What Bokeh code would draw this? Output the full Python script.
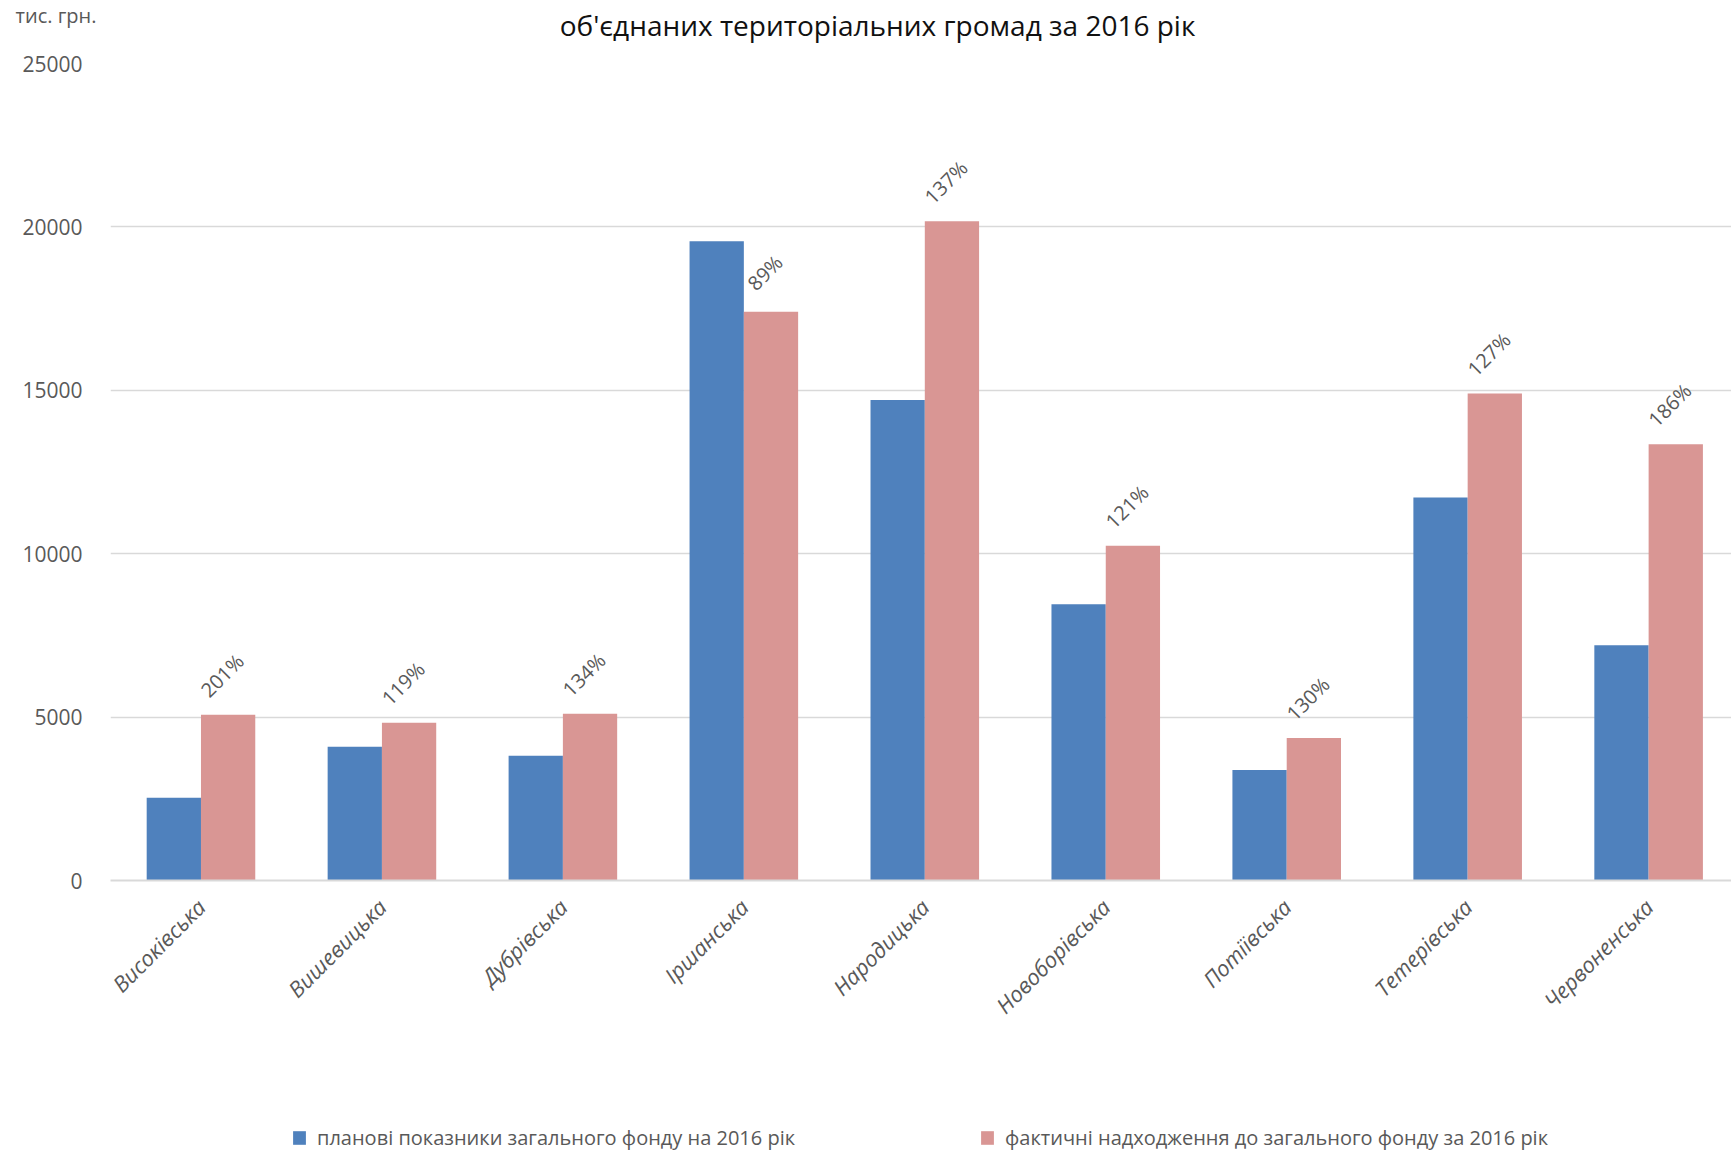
import numpy as np
from bokeh.plotting import figure
from bokeh.layouts import column
from bokeh.models import Range1d, FixedTicker, Legend, LegendItem
from bokeh.embed import file_html
from bokeh.resources import INLINE
from bokeh.core.properties import value

categories = ["Високівська", "Вишевицька", "Дубрівська", "Іршанська", "Народицька",
              "Новоборівська", "Потіївська", "Тетерівська", "Червоненська"]
planned = [2530, 4090, 3820, 19560, 14700, 8450, 3380, 11720, 7200]
actual = [5070, 4830, 5100, 17400, 20170, 10240, 4360, 14900, 13350]
percent_labels = ["201%", "119%", "134%", "89%", "137%", "121%", "130%", "127%", "186%"]
y_ticks = [0, 5000, 10000, 15000, 20000, 25000]

title_text = "об'єднаних територіальних громад за 2016 рік"
unit_text = "тис. грн."
series_names = ["планові показники загального фонду на 2016 рік",
                "фактичні надходження до загального фонду за 2016 рік"]

BLUE = "#4f81bd"
PINK = "#d99694"
GREY_TXT = "#595959"
FONT = "Open Sans"
W = 1731

# ---------- top strip: title and unit ----------
TOP_H = 44
top = figure(width=W, height=TOP_H, output_backend="svg", toolbar_location=None,
             x_range=Range1d(0, W), y_range=Range1d(TOP_H, 0),
             x_axis_type=None, y_axis_type=None, min_border=0, frame_align=False)
top.outline_line_color = None
top.grid.visible = False
top.text(x=[877], y=[24], text=[title_text], text_align="center", text_baseline="middle",
         text_font=value(FONT), text_font_size="28px", text_color="#111111")
top.text(x=[15], y=[15], text=[unit_text], text_align="left", text_baseline="middle",
         text_font=value(FONT), text_font_size="20px", text_color=GREY_TXT)

# ---------- main chart ----------
MAIN_H = 1056
n = len(categories)
centers = np.arange(n) + 0.5
bw = 0.3

p = figure(width=W, height=MAIN_H, output_backend="svg", toolbar_location=None,
           x_range=Range1d(0, 8.958), y_range=Range1d(0, 25000),
           min_border_left=110, min_border_right=0, min_border_top=19,
           min_border_bottom=MAIN_H - 19 - 817, frame_align=False)
p.outline_line_color = None

r1 = p.vbar(x=centers - bw / 2, top=planned, width=bw, fill_color=BLUE, line_color=None)
r2 = p.vbar(x=centers + bw / 2, top=actual, width=bw, fill_color=PINK, line_color=None)

p.text(x=centers + bw / 2, y=np.array(actual) + 1200, text=percent_labels,
       angle=45, angle_units="deg", text_align="center", text_baseline="middle",
       x_offset=-6,
       text_font=value(FONT), text_font_size="20px", text_color=GREY_TXT)

p.xgrid.grid_line_color = None
p.ygrid.grid_line_color = "#d9d9d9"
p.ygrid.grid_line_width = 1.5
p.yaxis.ticker = FixedTicker(ticks=y_ticks)
p.yaxis.axis_line_color = None
p.yaxis.major_tick_line_color = None
p.yaxis.minor_tick_line_color = None
p.yaxis.major_label_text_font = FONT
p.yaxis.major_label_text_font_size = "21px"
p.yaxis.major_label_text_color = GREY_TXT
p.yaxis.major_label_standoff = 22

p.xaxis.ticker = FixedTicker(ticks=list(centers))
p.xaxis.major_label_overrides = {float(c): name for c, name in zip(centers, categories)}
p.xaxis.axis_line_color = "#d9d9d9"
p.xaxis.axis_line_width = 2
p.xaxis.major_tick_line_color = None
p.xaxis.minor_tick_line_color = None
p.xaxis.major_label_orientation = np.pi / 4
p.xaxis.major_label_text_font = FONT
p.xaxis.major_label_text_font_size = "22px"
p.xaxis.major_label_text_font_style = "italic"
p.xaxis.major_label_text_color = GREY_TXT
p.xaxis.major_label_standoff = 16

# ---------- bottom strip: legend ----------
LEG_H = 1151 - TOP_H - MAIN_H
leg = figure(width=W, height=LEG_H, output_backend="svg", toolbar_location=None,
             x_range=Range1d(0, 1), y_range=Range1d(0, 1),
             x_axis_type=None, y_axis_type=None, min_border=0, frame_align=False)
leg.outline_line_color = None
leg.grid.visible = False
# placeholder renderers (below the visible range) that only carry the legend styling
lr1 = leg.vbar(x=[0.5], bottom=[-3], top=[-2], width=0.1, fill_color=BLUE, line_color=None)
lr2 = leg.vbar(x=[0.5], bottom=[-3], top=[-2], width=0.1, fill_color=PINK, line_color=None)
legend = Legend(items=[LegendItem(label=series_names[0], renderers=[lr1]),
                       LegendItem(label=series_names[1], renderers=[lr2])],
                orientation="horizontal", location=(291, 0),
                padding=0, margin=0, spacing=184, label_standoff=10,
                glyph_width=16, glyph_height=17,
                border_line_color=None, background_fill_alpha=0,
                label_text_font=FONT, label_text_font_size="20px", label_text_color=GREY_TXT)
leg.add_layout(legend, "center")

layout = column(top, p, leg, spacing=0)
open("out.html", "w").write(file_html(layout, INLINE))
